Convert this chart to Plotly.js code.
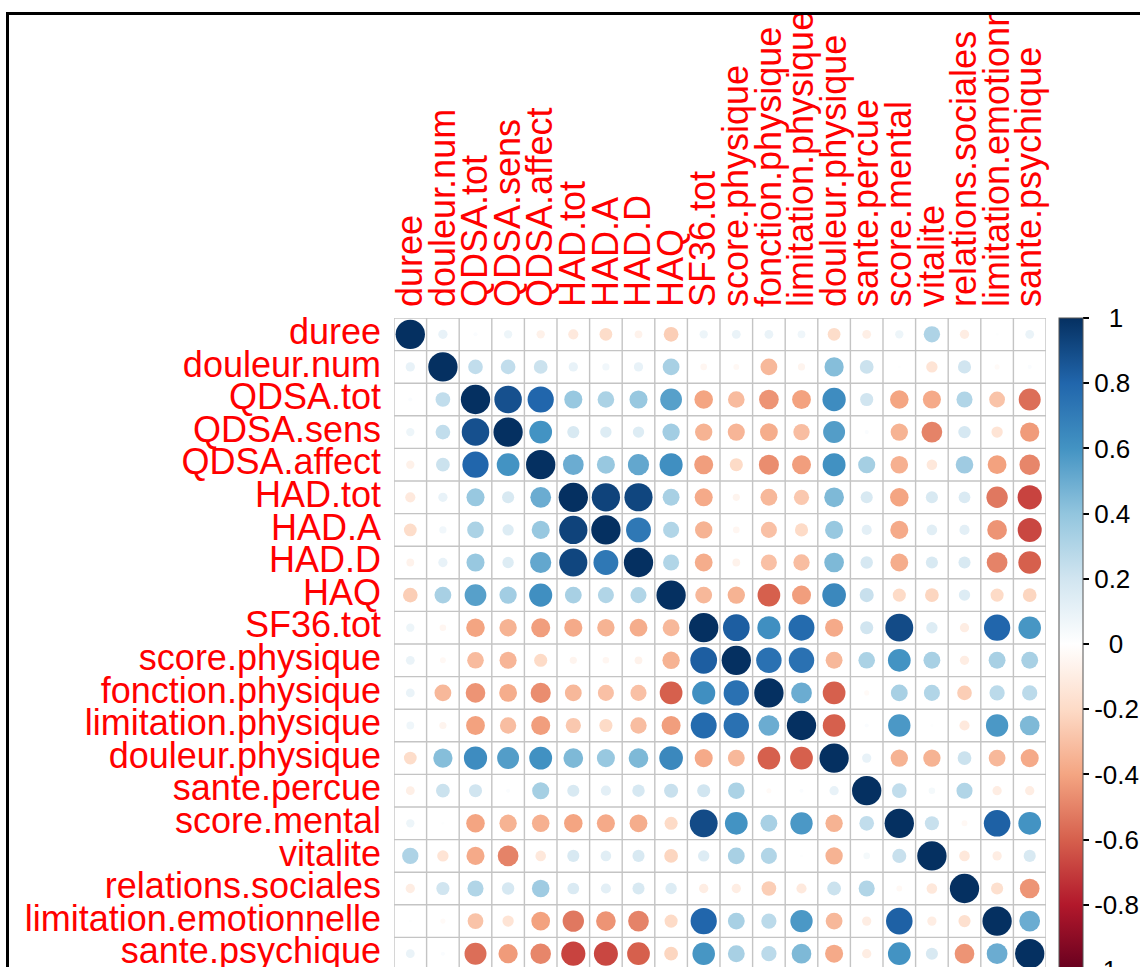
<!DOCTYPE html>
<html>
<head>
<meta charset="utf-8">
<script src="https://cdn.plot.ly/plotly-3.0.1.min.js"></script>
<style>
  html, body { margin: 0; padding: 0; background: #ffffff; overflow: hidden; width: 1140px; height: 967px; }
  #frame { position: absolute; left: 6px; top: 12px; width: 1200px; height: 1000px;
           border-top: 3px solid #000; border-left: 3px solid #000; overflow: hidden; background: #fff; }
  #chart { position: absolute; left: 0; top: 0; }
</style>
</head>
<body>
<div id="frame"><div id="chart"></div></div>
<script>
// Variable names (rows top→bottom, columns left→right)
const labels = ["duree", "douleur.num", "QDSA.tot", "QDSA.sens", "QDSA.affect", "HAD.tot", "HAD.A", "HAD.D", "HAQ",
  "SF36.tot", "score.physique", "fonction.physique", "limitation.physique", "douleur.physique", "sante.percue",
  "score.mental", "vitalite", "relations.sociales", "limitation.emotionnelle", "sante.psychique"];

// Correlation rows
const r_duree        = [1, 0.1, 0.02, 0.08, -0.08, -0.12, -0.19, -0.07, -0.25, 0.08, 0.09, 0.09, 0.07, -0.19, -0.09, 0.08, 0.31, -0.1, 0.01, 0.09];
const r_douleur_num  = [0.1, 1, 0.25, 0.25, 0.22, 0.1, 0.06, 0.1, 0.33, -0.05, -0.04, -0.33, -0.06, 0.43, 0.22, 0.01, -0.15, 0.2, -0.03, 0.02];
const r_qdsa_tot     = [0.02, 0.25, 1, 0.88, 0.8, 0.38, 0.32, 0.38, 0.55, -0.4, -0.32, -0.45, -0.41, 0.63, 0.2, -0.4, -0.38, 0.3, -0.29, -0.56];
const r_qdsa_sens    = [0.08, 0.25, 0.88, 1, 0.6, 0.17, 0.15, 0.15, 0.35, -0.35, -0.34, -0.37, -0.31, 0.56, 0.02, -0.35, -0.5, 0.18, -0.15, -0.43];
const r_qdsa_affect  = [-0.08, 0.22, 0.8, 0.6, 1, 0.5, 0.38, 0.52, 0.62, -0.42, -0.2, -0.47, -0.42, 0.61, 0.34, -0.36, -0.13, 0.36, -0.41, -0.49];
const r_had_tot      = [-0.12, 0.1, 0.38, 0.17, 0.5, 1, 0.93, 0.92, 0.33, -0.38, -0.06, -0.33, -0.27, 0.45, 0.17, -0.4, 0.17, 0.16, -0.53, -0.68];
const r_had_a        = [-0.19, 0.06, 0.32, 0.15, 0.38, 0.93, 1, 0.72, 0.3, -0.35, -0.05, -0.3, -0.2, 0.38, 0.12, -0.38, 0.13, 0.12, -0.45, -0.67];
const r_had_d        = [-0.07, 0.1, 0.38, 0.15, 0.52, 0.92, 0.72, 1, 0.3, -0.37, -0.07, -0.3, -0.31, 0.45, 0.18, -0.37, 0.17, 0.17, -0.5, -0.6];
const r_haq          = [-0.25, 0.33, 0.55, 0.35, 0.62, 0.33, 0.3, 0.3, 1, -0.33, -0.35, -0.6, -0.42, 0.65, 0.23, -0.2, -0.22, 0.15, -0.2, -0.22];
const r_sf36_tot     = [0.08, -0.05, -0.4, -0.35, -0.42, -0.38, -0.35, -0.37, -0.33, 1, 0.83, 0.62, 0.78, -0.38, 0.2, 0.9, 0.15, -0.1, 0.8, 0.59];
const r_score_phys   = [0.09, -0.04, -0.32, -0.34, -0.2, -0.06, -0.05, -0.07, -0.35, 0.83, 1, 0.75, 0.75, -0.33, 0.32, 0.6, 0.33, -0.1, 0.33, 0.33];
const r_fonct_phys   = [0.09, -0.33, -0.45, -0.37, -0.47, -0.33, -0.3, -0.3, -0.6, 0.62, 0.75, 1, 0.5, -0.6, -0.03, 0.33, 0.3, -0.25, 0.27, 0.27];
const r_limit_phys   = [0.07, -0.06, -0.41, -0.31, -0.42, -0.27, -0.2, -0.31, -0.42, 0.78, 0.75, 0.5, 1, -0.6, 0.02, 0.58, 0.01, -0.12, 0.58, 0.45];
const r_doul_phys    = [-0.19, 0.43, 0.63, 0.56, 0.61, 0.45, 0.38, 0.45, 0.65, -0.38, -0.33, -0.6, -0.6, 1, 0.1, -0.35, -0.35, 0.22, -0.33, -0.38];
const r_sante_perc   = [-0.09, 0.22, 0.2, 0.02, 0.34, 0.17, 0.12, 0.18, 0.23, 0.2, 0.32, -0.03, 0.02, 0.1, 1, 0.25, 0.05, 0.3, -0.1, -0.1];
const r_score_ment   = [0.08, 0.01, -0.4, -0.35, -0.36, -0.4, -0.38, -0.37, -0.2, 0.9, 0.6, 0.33, 0.58, -0.35, 0.25, 1, 0.23, -0.04, 0.82, 0.6];
const r_vitalite     = [0.31, -0.15, -0.38, -0.5, -0.13, 0.17, 0.13, 0.17, -0.22, 0.15, 0.33, 0.3, 0.01, -0.35, 0.05, 0.23, 1, -0.13, -0.1, 0.17];
const r_rel_soc      = [-0.1, 0.2, 0.3, 0.18, 0.36, 0.16, 0.12, 0.17, 0.15, -0.1, -0.1, -0.25, -0.12, 0.22, 0.3, -0.04, -0.13, 1, -0.17, -0.45];
const r_limit_emo    = [0.01, -0.03, -0.29, -0.15, -0.41, -0.53, -0.45, -0.5, -0.2, 0.8, 0.33, 0.27, 0.58, -0.33, -0.1, 0.82, -0.1, -0.17, 1, 0.5];
const r_sante_psy    = [0.09, 0.02, -0.56, -0.43, -0.49, -0.68, -0.67, -0.6, -0.22, 0.59, 0.33, 0.27, 0.45, -0.38, -0.1, 0.6, 0.17, -0.45, 0.5, 1];

// Colour legend tick labels
const cbTickVals = [-1, -0.8, -0.6, -0.4, -0.2, 0, 0.2, 0.4, 0.6, 0.8, 1];
const cbTickText = ["-1", "-0.8", "-0.6", "-0.4", "-0.2", "\u00a0\u00a00", "0.2", "0.4", "0.6", "0.8", "\u00a0\u00a01"];

const rows = [r_duree, r_douleur_num, r_qdsa_tot, r_qdsa_sens, r_qdsa_affect, r_had_tot, r_had_a, r_had_d, r_haq,
  r_sf36_tot, r_score_phys, r_fonct_phys, r_limit_phys, r_doul_phys, r_sante_perc, r_score_ment, r_vitalite,
  r_rel_soc, r_limit_emo, r_sante_psy];

const n = labels.length;
const plotPx = 652;
const cellPx = plotPx / n;

const xs = [], ys = [], vals = [], sizes = [];
for (let i = 0; i < n; i++) {
  for (let j = 0; j < n; j++) {
    const v = rows[i][j];
    xs.push(j); ys.push(i); vals.push(v);
    sizes.push(0.9 * cellPx * Math.sqrt(Math.abs(v)));
  }
}

const rdbu = ["#67001F", "#B2182B", "#D6604D", "#F4A582", "#FDDBC7", "#FFFFFF", "#D1E5F0", "#92C5DE", "#4393C3", "#2166AC", "#053061"];
const colorscale = rdbu.map((c, k) => [k / (rdbu.length - 1), c]);

const trace = {
  type: "scatter", mode: "markers",
  x: xs, y: ys,
  hoverinfo: "skip",
  marker: {
    size: sizes, sizemode: "diameter",
    color: vals, colorscale: colorscale, cmin: -1, cmax: 1,
    line: { width: 0 },
    opacity: 1,
    showscale: true,
    colorbar: {
      x: 1 + 13 / plotPx, xanchor: "left", xpad: 0,
      y: 0.5, yanchor: "middle", ypad: 0,
      len: 1, lenmode: "fraction",
      thickness: 24, thicknessmode: "pixels",
      outlinewidth: 1, outlinecolor: "#555555",
      tickmode: "array", tickvals: cbTickVals, ticktext: cbTickText,
      ticks: "outside", ticklen: 6, tickwidth: 2, tickcolor: "#000000",
      tickfont: { family: "Liberation Sans, Arial, sans-serif", size: 26, color: "#000000" },
      title: { text: "" }
    }
  }
};

const gridColor = "#c4c4c4";
const shapes = [];
for (let k = 0; k <= n; k++) {
  shapes.push({ type: "line", xref: "x", yref: "y", x0: k - 0.5, x1: k - 0.5, y0: -0.5, y1: n - 0.5,
    line: { color: gridColor, width: 1.4 }, layer: "below" });
  shapes.push({ type: "line", xref: "x", yref: "y", y0: k - 0.5, y1: k - 0.5, x0: -0.5, x1: n - 0.5,
    line: { color: gridColor, width: 1.4 }, layer: "below" });
}

const labelFont = { family: "Liberation Sans, Arial, sans-serif", size: 36, color: "#FF0000" };

const layout = {
  width: 1167, height: 975,
  margin: { l: 385, r: 130, t: 303, b: 20, pad: 0 },
  paper_bgcolor: "#ffffff", plot_bgcolor: "#ffffff",
  showlegend: false,
  xaxis: {
    side: "top", range: [-0.5, n - 0.5], tickmode: "array",
    tickvals: labels.map((_, k) => k), ticktext: labels,
    tickangle: -90, tickfont: labelFont, ticks: "", ticklabelstandoff: 10,
    showgrid: false, zeroline: false, showline: false, fixedrange: true, automargin: false
  },
  yaxis: {
    range: [n - 0.5, -0.5], tickmode: "array",
    tickvals: labels.map((_, k) => k), ticktext: labels,
    tickfont: labelFont, ticks: "", ticklabelstandoff: 12, ticklabelshift: 3,
    showgrid: false, zeroline: false, showline: false, fixedrange: true, automargin: false
  },
  shapes: shapes
};

Plotly.newPlot("chart", [trace], layout, { staticPlot: true, displayModeBar: false });
</script>
</body>
</html>
